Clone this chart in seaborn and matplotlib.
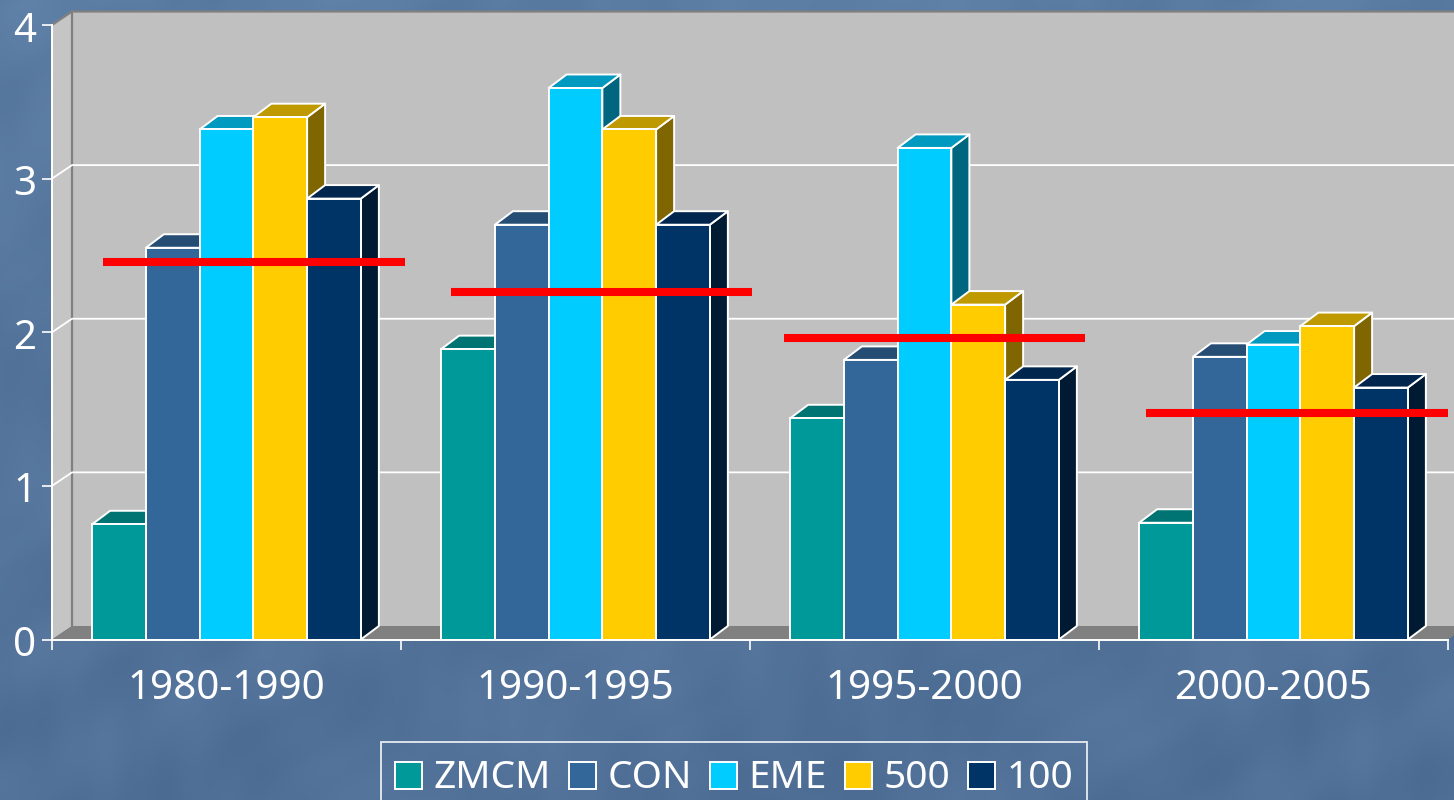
import matplotlib
matplotlib.use("Agg")
import matplotlib.pyplot as plt
from matplotlib.patches import Polygon
from matplotlib.colors import to_rgb
from matplotlib.transforms import ScaledTranslation
import numpy as np
import pandas as pd
import seaborn as sns

periods = ['1980-1990', '1990-1995', '1995-2000', '2000-2005']
series = ['ZMCM', 'CON', 'EME', '500', '100']
zmcm = [0.75, 1.89, 1.44, 0.76]
con = [2.55, 2.70, 1.82, 1.84]
eme = [3.32, 3.59, 3.20, 1.92]
v500 = [3.40, 3.32, 2.18, 2.04]
v100 = [2.87, 2.70, 1.69, 1.64]
# red marks: level and horizontal span in category units
mean_level = [2.46, 2.26, 1.96, 1.475]
mean_start = [-0.354, 0.643, 1.597, 2.635]
mean_end = [0.511, 1.506, 2.46, 3.5]
colors = ['#009999', '#336699', '#00CCFF', '#FFCC00', '#003366']

df = pd.DataFrame({'period': periods * 5,
                   'series': np.repeat(series, 4),
                   'value': zmcm + con + eme + v500 + v100})

sns.set_theme(style="white")
plt.rcParams['font.family'] = ['Noto Sans', 'DejaVu Sans']
W, H = 1454, 800
fig = plt.figure(figsize=(W / 100, H / 100), dpi=100)

# textured slide background (just a pattern of sines, no chart data in it)
yy, xx = np.mgrid[0:H, 0:W]
tex = (np.sin(xx * 0.017 + yy * 0.031 + 2.5 * np.sin(yy * 0.009 + xx * 0.004))
       + 0.6 * np.sin(xx * 0.043 - yy * 0.027 + 2 * np.sin(xx * 0.011 + yy * 0.006))
       + 0.25 * np.sin(xx * 0.11 + yy * 0.07 + 3 * np.sin(yy * 0.023 - xx * 0.015))) / 1.85
top = np.array([91, 124, 163]) / 255
bottom = np.array([80, 112, 152]) / 255
shade = yy[..., None] / H
bg = top * (1 - shade) + bottom * shade + 0.02 * tex[..., None]
bg_ax = fig.add_axes([0, 0, 1, 1], zorder=-1)
bg_ax.imshow(np.clip(bg, 0, 1), aspect='auto')
bg_ax.axis('off')

ax = fig.add_axes([52 / W, 1 - 639.5 / H, 1396 / W, 614.5 / H])
ax.patch.set_alpha(0)
sns.barplot(data=df, x='period', y='value', hue='series', palette=colors,
            width=0.77, gap=0, saturation=1, edgecolor='white', linewidth=1.4, ax=ax)
ax.set_xlim(-0.5, 3.5)
ax.set_ylim(0, 4)
ax.set_xlabel('')
ax.set_ylabel('')

# oblique offset of the fake 3D depth, in data units
dx, dy = 20 / 349, 13.5 / 153.6
box_dx = 18 / 349
xl, xr = -0.5, 3.5


def face(points, color, z, edge='none', lw=0):
    ax.add_patch(Polygon(points, closed=True, facecolor=color, edgecolor=edge,
                         linewidth=lw, zorder=z, clip_on=False, joinstyle='round'))


# walls and floor
face([(xl + dx, dy), (xr + dx, dy), (xr + dx, 4 + dy), (xl + dx, 4 + dy)], '#C0C0C0', 0.5)
face([(xl, 0), (xl + dx, dy), (xl + dx, 4 + dy), (xl, 4)], '#C5C5C5', 0.5)
face([(xl, 0), (xr, 0), (xr + dx, dy), (xl + dx, dy)], '#808080', 0.6)
ax.plot([xl, xl + dx, xr + dx], [4, 4 + dy, 4 + dy], color='#808080', lw=1.6, zorder=0.7, clip_on=False)
ax.plot([xl + dx, xl + dx], [dy, 4 + dy], color='#808080', lw=1.6, zorder=0.7, clip_on=False)
for g in [1, 2, 3]:
    ax.plot([xl, xl + dx, xr + dx], [g, g + dy, g + dy], color='white', lw=1.3, zorder=0.8, clip_on=False)

# boxes: side and top behind each front face, left to right
for i, cont in enumerate(ax.containers):
    base = to_rgb(colors[i])
    top_col = tuple(c * 0.75 for c in base)
    side_col = tuple(c * 0.5 for c in base)
    z = 10 + 3 * i
    for bar in cont:
        x0, w, h = bar.get_x(), bar.get_width(), bar.get_height()
        x1 = x0 + w
        face([(x1, 0), (x1 + box_dx, dy), (x1 + box_dx, h + dy), (x1, h)], side_col, z, 'white', 1.4)
        face([(x0, h), (x1, h), (x1 + box_dx, h + dy), (x0 + box_dx, h + dy)], top_col, z + 1, 'white', 1.4)
        bar.set_zorder(z + 2)

for lvl, s, e in zip(mean_level, mean_start, mean_end):
    ax.plot([s, e], [lvl, lvl], color='#FF0000', lw=5.8, solid_capstyle='butt', zorder=60, clip_on=False)

# axes
for side in ['top', 'right']:
    ax.spines[side].set_visible(False)
for side in ['left', 'bottom']:
    ax.spines[side].set_color('white')
    ax.spines[side].set_linewidth(1.4)
    ax.spines[side].set_zorder(50)
ax.set_yticks([0, 1, 2, 3, 4])
ax.set_xticks([-0.5, 0.5, 1.5, 2.5, 3.5], labels=[])
ax.set_xticks([0, 1, 2, 3], labels=periods, minor=True)
ax.tick_params(axis='x', which='major', length=7.5, width=1.2, color='white', bottom=True)
ax.tick_params(axis='x', which='minor', length=0, pad=21, labelsize=29, labelcolor='white')
ax.tick_params(axis='y', length=7.5, width=1.2, color='white', left=True, pad=4,
               labelsize=29, labelcolor='white')
for lbl in ax.get_yticklabels():
    lbl.set_transform(lbl.get_transform() + ScaledTranslation(0, -1.5 / 100, fig.dpi_scale_trans))

handles, labels = ax.get_legend_handles_labels()
leg = ax.legend(handles, labels, ncol=5, loc='upper left', bbox_to_anchor=(381 / W, 1 - 742 / H),
                bbox_transform=fig.transFigure, borderaxespad=0, frameon=True, fancybox=False,
                facecolor='none', edgecolor='white', framealpha=None, fontsize=28,
                labelcolor='white', handlelength=0.7, handleheight=0.7, handletextpad=0.3,
                columnspacing=0.45, borderpad=0.36)
leg.get_frame().set_linewidth(1.4)
leg.set_zorder(70)
# nudge legend entries down a little inside the frame
for t in leg.get_texts():
    t.set_y(-3)
for p in leg.get_patches():
    p.set_y(p.get_y() - 3)

fig.savefig('out.png', dpi=100)
